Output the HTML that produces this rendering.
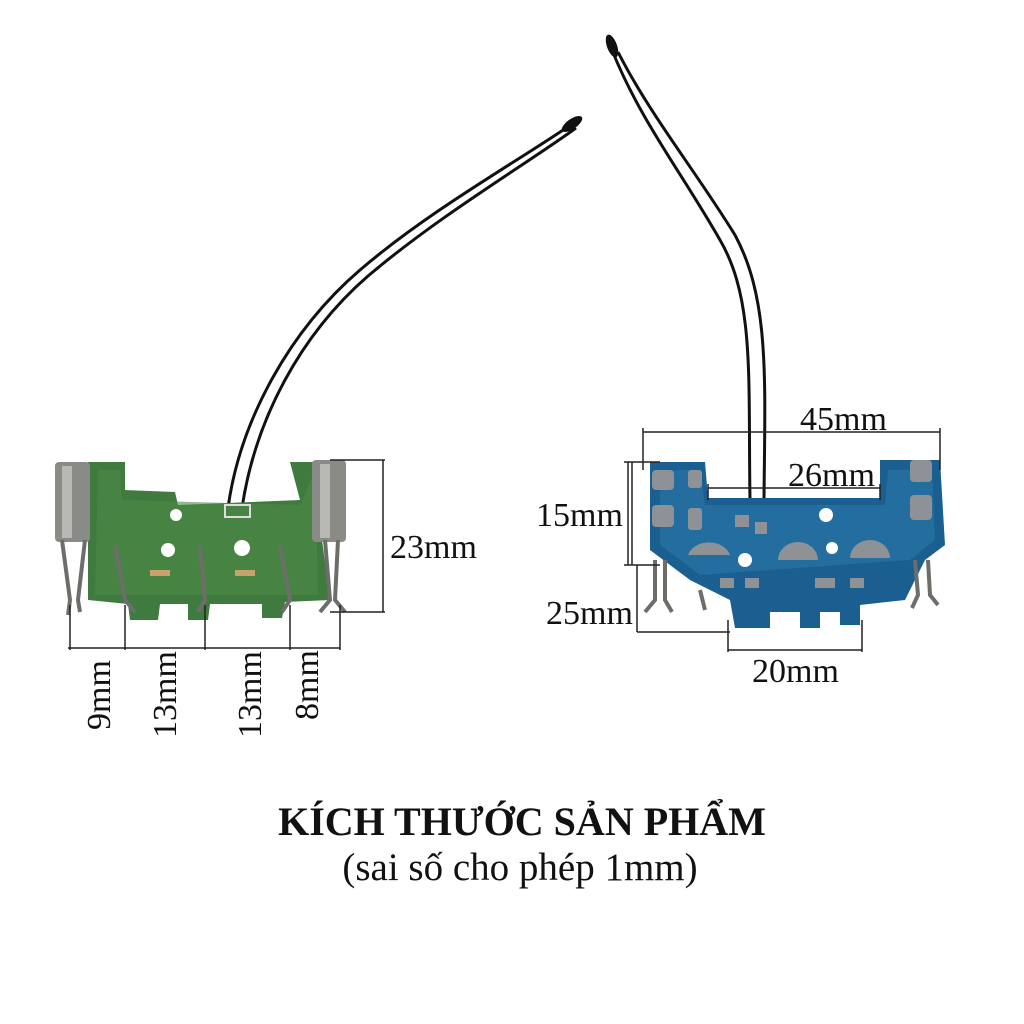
<!DOCTYPE html>
<html><head><meta charset="utf-8"><style>
html,body{margin:0;padding:0;background:#fff;width:1024px;height:1024px;overflow:hidden}
svg{display:block}
text{font-family:"Liberation Serif",serif;fill:#111}
</style></head><body>
<svg width="1024" height="1024" viewBox="0 0 1024 1024">
<path d="M228 508 C240 420 290 330 360 270 C430 210 520 160 572 124" stroke="#111" stroke-width="3" fill="none"/>
<path d="M242 508 C255 420 300 335 368 276 C440 215 525 165 576 128" stroke="#111" stroke-width="3" fill="none"/>
<ellipse cx="572" cy="124" rx="12" ry="5" transform="rotate(-35 572 124)" fill="#111"/>
<path d="M750 500 C748 380 755 300 720 240 C680 170 640 120 612 50" stroke="#111" stroke-width="3" fill="none"/>
<path d="M764 500 C765 380 770 300 735 235 C695 170 650 115 618 52" stroke="#111" stroke-width="3" fill="none"/>
<ellipse cx="612" cy="46" rx="5" ry="12" transform="rotate(-20 612 46)" fill="#111"/>

<path d="M88 462 L125 462 L125 490 L175 492 L178 505 L300 500 L290 462 L320 462 L322 540 L330 600 L285 602 L282 618 L262 618 L262 604 L210 604 L208 620 L188 620 L188 604 L160 604 L158 620 L130 620 L128 604 L88 600 Z" fill="#3f7a3e"/>
<path d="M98 470 L120 470 L122 500 L300 505 L315 470 L318 595 L95 595 Z" fill="#4c8a47" opacity="0.6"/>
<circle cx="176" cy="515" r="6" fill="#fff"/>
<circle cx="242" cy="548" r="8" fill="#fff"/>
<circle cx="168" cy="550" r="7" fill="#fff"/>
<rect x="225" y="505" width="25" height="12" fill="none" stroke="#ddd" stroke-width="2"/>
<rect x="150" y="570" width="20" height="6" fill="#c7a36b"/>
<rect x="235" y="570" width="20" height="6" fill="#c7a36b"/>
<rect x="55" y="462" width="35" height="80" rx="4" fill="#8a8a86"/>
<rect x="62" y="466" width="10" height="72" fill="#b8b8b4"/>
<rect x="312" y="460" width="34" height="82" rx="4" fill="#8a8a86"/>
<rect x="320" y="464" width="10" height="74" fill="#b8b8b4"/>
<g stroke="#6d6d6a" stroke-width="4" fill="none">
<path d="M62 540 L70 600 L68 615"/><path d="M85 540 L78 600 L80 612"/>
<path d="M115 545 L125 600 L135 612"/><path d="M200 545 L205 600 L198 612"/>
<path d="M280 545 L290 600 L282 612"/><path d="M325 540 L330 600 L320 612"/><path d="M338 540 L335 600 L345 612"/>
</g>
<g stroke="#222" stroke-width="1.5">
<line x1="383" y1="460" x2="383" y2="612"/>
<line x1="330" y1="460" x2="385" y2="460"/>
<line x1="330" y1="612" x2="385" y2="612"/>
<line x1="68" y1="648" x2="340" y2="648"/>
<line x1="70" y1="605" x2="70" y2="650"/>
<line x1="125" y1="605" x2="125" y2="650"/>
<line x1="205" y1="605" x2="205" y2="650"/>
<line x1="290" y1="605" x2="290" y2="650"/>
<line x1="340" y1="605" x2="340" y2="650"/>
</g>
<text x="390" y="558" font-size="34">23mm</text>
<text font-size="34" transform="translate(110 730) rotate(-90)">9mm</text>
<text font-size="34" transform="translate(176 738) rotate(-90)">13mm</text>
<text font-size="34" transform="translate(261 738) rotate(-90)">13mm</text>
<text font-size="34" transform="translate(318 720) rotate(-90)">8mm</text>

<path d="M650 462 L705 462 L708 498 L880 498 L880 460 L940 460 L945 545 L925 560 L905 600 L860 605 L860 625 L840 625 L840 612 L820 612 L820 628 L800 628 L800 612 L770 612 L770 628 L735 628 L730 600 L690 580 L650 550 Z" fill="#1a5f8f"/>
<path d="M660 470 L700 470 L705 505 L885 505 L888 470 L932 470 L935 540 L910 560 L700 575 L660 545 Z" fill="#2a78aa" opacity="0.6"/>
<g fill="#8e9296">
<rect x="652" y="470" width="22" height="20" rx="4"/><rect x="652" y="505" width="22" height="22" rx="4"/>
<rect x="910" y="460" width="22" height="22" rx="4"/><rect x="910" y="495" width="22" height="25" rx="4"/>
<rect x="688" y="470" width="14" height="18" rx="3"/><rect x="688" y="508" width="14" height="22" rx="3"/>
<path d="M688 555 a22 18 0 0 1 42 0 z"/><path d="M778 560 a20 18 0 0 1 40 0 z"/><path d="M850 558 a20 18 0 0 1 40 0 z"/>
<rect x="735" y="515" width="14" height="12"/><rect x="755" y="522" width="12" height="12"/>
<rect x="720" y="578" width="14" height="10"/><rect x="745" y="578" width="14" height="10"/><rect x="815" y="578" width="20" height="10"/><rect x="850" y="578" width="14" height="10"/>
</g>
<circle cx="745" cy="560" r="7" fill="#fff"/><circle cx="832" cy="548" r="6" fill="#fff"/><circle cx="826" cy="515" r="7" fill="#fff"/>
<g stroke="#6d6d6a" stroke-width="4" fill="none">
<path d="M655 560 L655 600 L645 612"/><path d="M665 560 L665 600 L672 612"/>
<path d="M700 590 L705 610"/><path d="M915 560 L918 595 L912 608"/><path d="M928 560 L930 595 L938 605"/>
</g>
<g stroke="#222" stroke-width="1.5">
<line x1="643" y1="432" x2="940" y2="432"/>
<line x1="643" y1="428" x2="643" y2="470"/><line x1="940" y1="428" x2="940" y2="470"/>
<line x1="708" y1="488" x2="880" y2="488"/>
<line x1="708" y1="484" x2="708" y2="500"/><line x1="880" y1="484" x2="880" y2="500"/>
<line x1="628" y1="462" x2="628" y2="565"/><line x1="632" y1="462" x2="632" y2="565"/>
<line x1="624" y1="462" x2="660" y2="462"/><line x1="624" y1="565" x2="660" y2="565"/>
<line x1="637" y1="565" x2="637" y2="632"/>
<line x1="637" y1="632" x2="730" y2="632"/>
<line x1="728" y1="650" x2="862" y2="650"/>
<line x1="728" y1="620" x2="728" y2="652"/><line x1="862" y1="620" x2="862" y2="652"/>
</g>
<text x="800" y="430" font-size="34">45mm</text>
<text x="788" y="486" font-size="34">26mm</text>
<text x="536" y="526" font-size="34">15mm</text>
<text x="546" y="624" font-size="34">25mm</text>
<text x="752" y="682" font-size="34">20mm</text>

<text x="522" y="835" font-size="40" font-weight="bold" text-anchor="middle">KÍCH THƯỚC SẢN PHẨM</text>
<text x="520" y="880" font-size="39" text-anchor="middle">(sai số cho phép 1mm)</text>
</svg>
</body></html>
